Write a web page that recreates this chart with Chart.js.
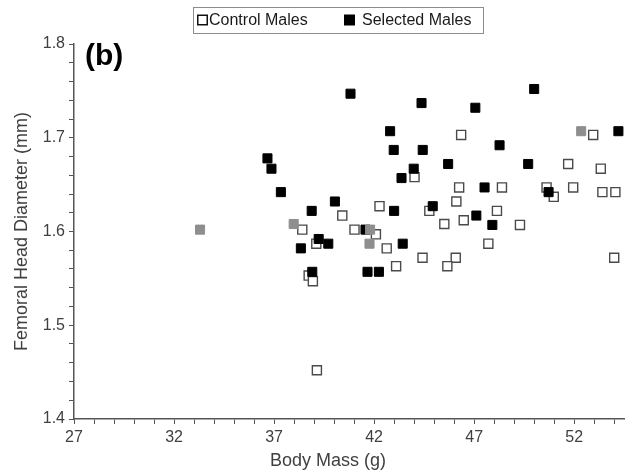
<!DOCTYPE html>
<html lang="en">
<head>
<meta charset="UTF-8">
<title>Femoral Head Diameter vs Body Mass</title>
<script src="https://cdn.jsdelivr.net/npm/chart.js@4.4.3/dist/chart.umd.min.js"></script>
<style>
  html, body { margin: 0; padding: 0; background: #fff; }
  .wrap { width: 632px; height: 472px; position: relative; }
</style>
</head>
<body>
<div class="wrap"><canvas id="fhdChart"></canvas></div>
<script>
// body mass (g) / femoral head diameter (mm)
const controlMass = [44.02, 42.27, 40.41, 44.76, 38.41, 41.02, 42.09, 39.11, 42.63, 44.42, 43.10,
    38.73, 38.94, 39.14, 46.35, 52.95, 51.70, 53.33, 46.25, 48.39, 50.62, 51.95, 50.98, 53.41,
    54.06, 46.11, 48.14, 45.51, 46.48, 49.29, 47.71, 46.08, 45.66, 54.00];
const controlFhd = [1.658, 1.627, 1.617, 1.622, 1.602, 1.602, 1.597, 1.587, 1.582, 1.572, 1.563,
    1.553, 1.547, 1.452, 1.703, 1.703, 1.672, 1.667, 1.647, 1.647, 1.647, 1.647, 1.637, 1.642,
    1.642, 1.632, 1.622, 1.608, 1.612, 1.607, 1.587, 1.572, 1.563, 1.572];

const selectedMass = [40.82, 44.37, 42.80, 42.98, 44.43, 36.67, 36.87, 43.98, 43.37, 37.34, 40.04,
    38.88, 43.00, 44.93, 39.23, 38.34, 39.71, 43.43, 41.57, 38.91, 41.67, 42.24, 50.00, 47.06,
    54.21, 48.27, 45.70, 49.70, 47.52, 50.72, 47.11, 47.91];
const selectedFhd = [1.747, 1.737, 1.707, 1.687, 1.687, 1.678, 1.667, 1.667, 1.657, 1.642, 1.632,
    1.622, 1.622, 1.627, 1.592, 1.582, 1.587, 1.587, 1.602, 1.557, 1.557, 1.557, 1.752, 1.732,
    1.707, 1.692, 1.672, 1.672, 1.647, 1.642, 1.617, 1.607];

// grey markers, not listed in the legend
const greyMass = [33.30, 37.98, 41.80, 41.77, 52.35];
const greyFhd = [1.602, 1.608, 1.602, 1.587, 1.707];

const xTickLabels = [27, 32, 37, 42, 47, 52];
const yTickLabels = [1.4, 1.5, 1.6, 1.7, 1.8];
const legendOrder = ['Control Males', 'Selected Males'];

const FONT = "'Liberation Sans', Arial, sans-serif";
const TEXT = '#404040';
const AXIS = '#555555';
// where the plot area sits in the figure
const plotBox = { left: 74, top: 44, right: 626, bottom: 419 };

const toPoints = (xs, ys) => xs.map((x, i) => ({ x: x, y: ys[i] }));

// boxed legend, panel letter and the x axis title (sits left of centre in the original)
const figureExtras = {
    id: 'figureExtras',
    afterDraw(chart) {
        const ctx = chart.ctx;
        ctx.save();
        ctx.strokeStyle = '#8c8c8c';
        ctx.lineWidth = 1;
        ctx.strokeRect(193.5, 7.5, 290, 26);

        ctx.font = '16px ' + FONT;
        ctx.textBaseline = 'middle';
        const slots = [197, 344];
        legendOrder.forEach((name, i) => {
            const ds = chart.data.datasets.find(d => d.label === name);
            const x = slots[i];
            if (ds.hollow) {
                ctx.strokeStyle = '#111';
                ctx.lineWidth = 1.5;
                ctx.strokeRect(x + 0.75, 15.25, 9.5, 9.5);
            } else {
                ctx.fillStyle = '#000';
                ctx.fillRect(x, 14.5, 11, 11);
            }
            ctx.fillStyle = '#1a1a1a';
            ctx.textAlign = 'left';
            ctx.fillText(ds.label, x + (ds.hollow ? 12 : 18), 21);
        });

        ctx.font = 'bold 30px ' + FONT;
        ctx.fillStyle = '#000';
        ctx.fillText('(b)', 85, 57);

        ctx.font = '18px ' + FONT;
        ctx.fillStyle = TEXT;
        ctx.textAlign = 'center';
        ctx.fillText('Body Mass (g)', 328, 461);
        ctx.restore();
    }
};

const ctx = document.getElementById('fhdChart').getContext('2d');
const chart = new Chart(ctx, {
    type: 'scatter',
    data: {
        datasets: [
            {
                label: 'Grey',
                data: toPoints(greyMass, greyFhd),
                pointStyle: 'rect',
                pointRadius: 6.4,
                backgroundColor: '#8e8e8e',
                borderColor: '#8e8e8e',
                borderWidth: 1,
                order: 1
            },
            {
                label: 'Selected Males',
                data: toPoints(selectedMass, selectedFhd),
                pointStyle: 'rect',
                pointRadius: 6.4,
                backgroundColor: '#000000',
                borderColor: '#000000',
                borderWidth: 1,
                order: 2
            },
            {
                label: 'Control Males',
                data: toPoints(controlMass, controlFhd),
                pointStyle: 'rect',
                pointRadius: 6.4,
                backgroundColor: '#ffffff',
                borderColor: '#4a4a4a',
                borderWidth: 1.4,
                order: 3,
                hollow: true
            }
        ]
    },
    options: {
        responsive: true,
        maintainAspectRatio: false,
        animation: false,
        events: [],
        layout: { padding: { left: 0, top: 34, right: 6, bottom: 30 } },
        plugins: {
            legend: { display: false },
            tooltip: { enabled: false }
        },
        scales: {
            x: {
                type: 'linear',
                min: 27,
                max: 54.5,
                ticks: {
                    stepSize: 1,
                    autoSkip: false,
                    includeBounds: false,
                    maxRotation: 0,
                    color: TEXT,
                    padding: 4,
                    font: { family: FONT, size: 16 },
                    callback: v => xTickLabels.includes(v) ? String(v) : ''
                },
                grid: { drawOnChartArea: false, drawTicks: true, tickLength: 5, color: AXIS, lineWidth: 1 },
                border: { display: true, color: AXIS, width: 1.5 }
            },
            y: {
                min: 1.4,
                max: 1.8,
                ticks: {
                    stepSize: 0.02,
                    autoSkip: false,
                    color: TEXT,
                    padding: 4,
                    font: { family: FONT, size: 16 },
                    callback: v => {
                        const hit = yTickLabels.find(t => Math.abs(t - v) < 1e-6);
                        return hit === undefined ? '' : hit.toFixed(1);
                    }
                },
                grid: { drawOnChartArea: false, drawTicks: true, tickLength: 5, color: AXIS, lineWidth: 1 },
                border: { display: true, color: AXIS, width: 1.5 },
                title: {
                    display: true,
                    text: 'Femoral Head Diameter (mm)',
                    color: TEXT,
                    font: { family: FONT, size: 18 },
                    padding: { top: 0, bottom: 6 }
                }
            }
        }
    },
    plugins: [figureExtras]
});

// pin the plot area to the same pixels as the original figure
const area = chart.chartArea;
const pad = chart.options.layout.padding;
pad.left += plotBox.left - area.left;
pad.top += plotBox.top - area.top;
pad.right += area.right - plotBox.right;
pad.bottom += area.bottom - plotBox.bottom;
chart.update('none');
</script>
</body>
</html>
